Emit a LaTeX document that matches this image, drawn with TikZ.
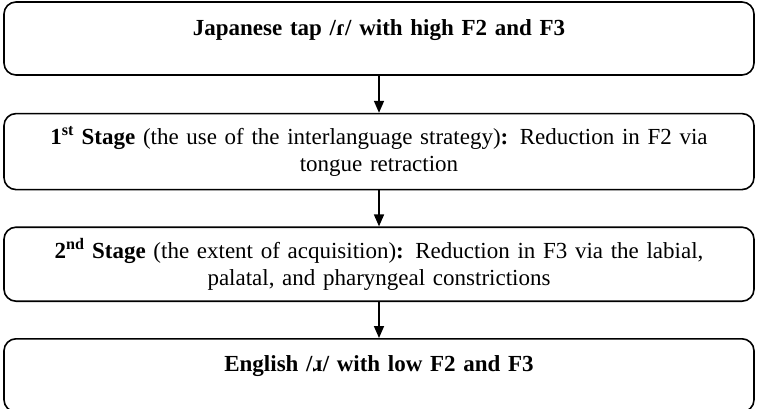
\documentclass[tikz,border=0pt]{standalone}
\usepackage{fontspec}
\setmainfont{Liberation Serif}
\usepackage{tikz}
\usetikzlibrary{arrows.meta,positioning}
\tikzset{
  stagebox/.style={
    rectangle,
    rounded corners=12pt,
    draw=black,
    line width=1.6pt,
    text width=720pt,
    inner xsep=15pt,
    minimum height=74pt,
    align=center,
    font=\fontsize{23}{27}\selectfont
  },
  single/.style={text height=16pt, text depth=23pt},
  arrow/.style={-{Triangle[length=12pt,width=10pt]}, line width=1.6pt, draw=black}
}

\begin{document}
\begin{tikzpicture}[node distance=36pt]
\path[use as bounding box] (0,0) rectangle (760pt,-408pt);

\node[stagebox, single, minimum height=73pt] (japanese) at (379pt,-38.5pt) {
\textbf{Japanese tap /ɾ/ with high F2 and F3}
};

\node[stagebox, below=37pt of japanese, minimum height=76pt] (stageone) {
\textbf{1\textsuperscript{st} Stage} (the use of the interlanguage strategy)\textbf{:} Reduction in F2 via\\
tongue retraction
};

\node[stagebox, below=of stageone] (stagetwo) {
\textbf{2\textsuperscript{nd} Stage} (the extent of acquisition)\textbf{:} Reduction in F3 via the labial,\\
palatal, and pharyngeal constrictions
};

\node[stagebox, single, below=of stagetwo, minimum height=73pt] (english) {
\textbf{English /ɹ/ with low F2 and F3}
};

\draw[arrow] (japanese) -- (stageone);
\draw[arrow] (stageone) -- (stagetwo);
\draw[arrow] (stagetwo) -- (english);

\end{tikzpicture}
\end{document}
